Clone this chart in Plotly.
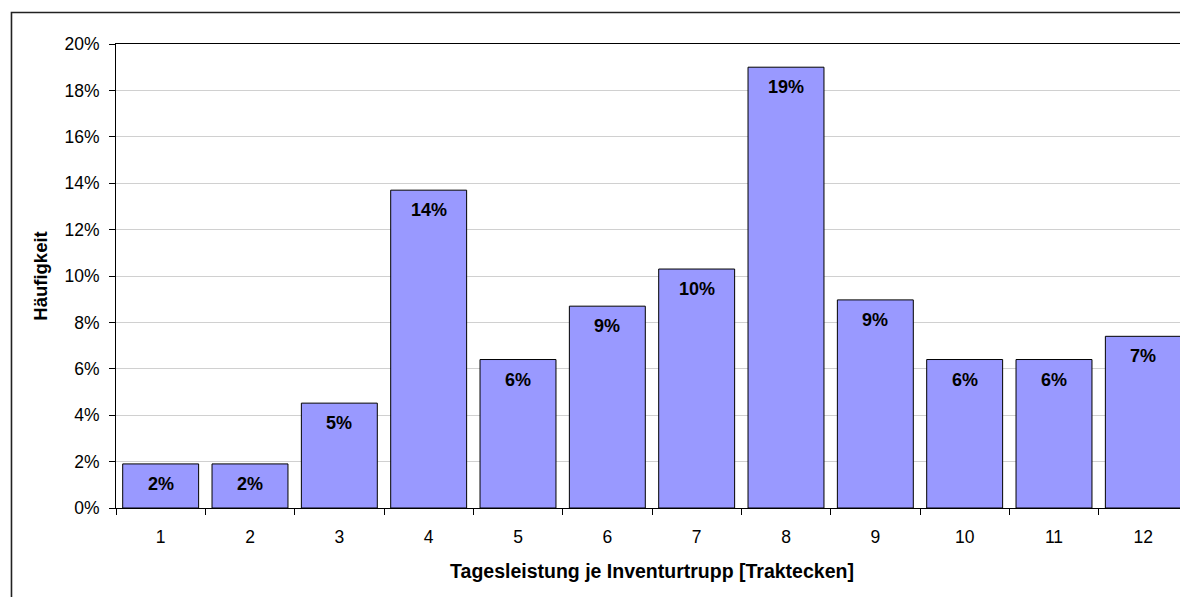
import plotly.graph_objects as go

categories = ["1", "2", "3", "4", "5", "6", "7", "8", "9", "10", "11", "12"]
values = [0.019, 0.019, 0.0452, 0.137, 0.064, 0.087, 0.103, 0.190, 0.0897, 0.064, 0.064, 0.074]
y_ticks = [0, 0.02, 0.04, 0.06, 0.08, 0.10, 0.12, 0.14, 0.16, 0.18, 0.20]

FONT = "Liberation Sans, Arial, sans-serif"

fig = go.Figure()
fig.add_trace(go.Bar(
    x=categories, y=values,
    marker=dict(color="#9999FF", line=dict(color="black", width=1)),
    hoverinfo="skip",
))

for i, v in enumerate(values):
    fig.add_annotation(
        x=i, y=v, text="<b>%d%%</b>" % round(v * 100 + 1e-9),
        showarrow=False, yanchor="top", yshift=-8,
        font=dict(family=FONT, size=18, color="black"),
    )

# outer chart border
fig.add_shape(type="rect", xref="paper", yref="paper",
              x0=-0.0975, x1=1.05, y0=-0.3, y1=1.068,
              line=dict(color="#222222", width=1.6), layer="above")

fig.update_layout(
    width=1180, height=589,
    margin=dict(l=108, r=0, t=36, b=89),
    paper_bgcolor="white", plot_bgcolor="white",
    showlegend=False,
    bargap=0.15,
    font=dict(family=FONT, size=18, color="black"),
)
fig.update_xaxes(
    type="category", tickson="boundaries", range=[-0.5, 11.5],
    ticks="outside", ticklen=6, tickcolor="black", tickwidth=1,
    showline=True, linecolor="black", linewidth=1, mirror=True,
    showgrid=False,
    tickfont=dict(size=17.5), ticklabelstandoff=13,
    title=dict(text="<b>Tagesleistung je Inventurtrupp [Traktecken]</b>",
               font=dict(size=19.5), standoff=18),
)
fig.update_yaxes(
    range=[0, 0.2], tickvals=y_ticks, tickformat=".0%",
    ticks="outside", ticklen=6, tickcolor="black", tickwidth=1,
    showline=True, linecolor="black", linewidth=1, mirror=True,
    showgrid=True, gridcolor="#d0d0d0", gridwidth=1,
    zeroline=False,
    tickfont=dict(size=17.5), ticklabelstandoff=6,
    title=dict(text="<b>Häufigkeit</b>", font=dict(size=18.5), standoff=11),
)

fig.write_html("out.html")
